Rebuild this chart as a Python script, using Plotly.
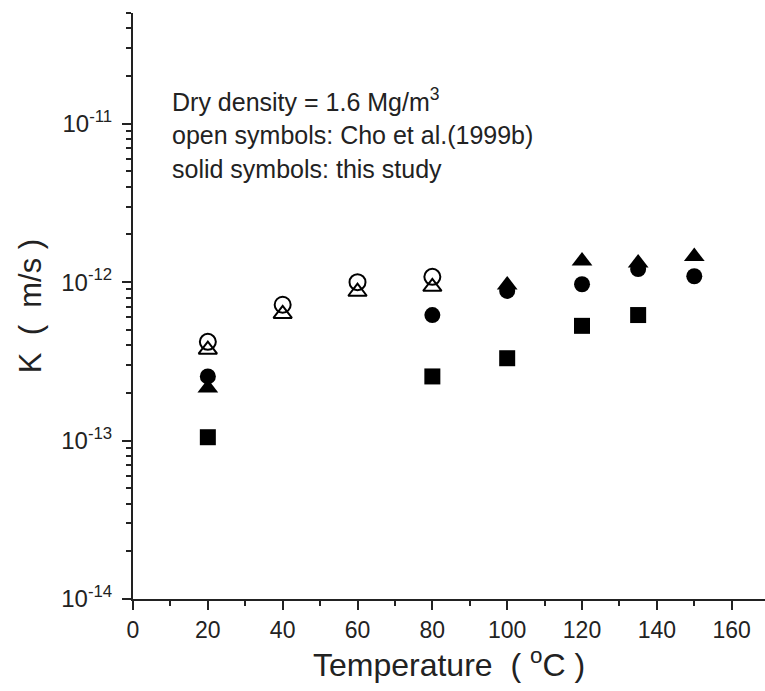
import plotly.graph_objects as go

# Open symbols: Cho et al. (1999b)
cho_T = [20, 40, 60, 80]
cho_circle_K = [4.2e-13, 7.2e-13, 1.0e-12, 1.08e-12]
cho_triangle_K = [3.75e-13, 6.3e-13, 8.7e-13, 9.35e-13]

# Solid symbols: this study
study_circle_T = [20, 80, 100, 120, 135, 150]
study_circle_K = [2.54e-13, 6.2e-13, 8.8e-13, 9.7e-13, 1.21e-12, 1.09e-12]
study_triangle_T = [20, 100, 120, 135, 150]
study_triangle_K = [2.15e-13, 9.6e-13, 1.36e-12, 1.32e-12, 1.45e-12]
study_square_T = [20, 80, 100, 120, 135]
study_square_K = [1.05e-13, 2.54e-13, 3.31e-13, 5.3e-13, 6.2e-13]

y_tickvals = [1e-14, 1e-13, 1e-12, 1e-11]
y_ticktext = ["10<sup>-14</sup>", "10<sup>-13</sup>", "10<sup>-12</sup>", "10<sup>-11</sup>"]

note_lines = [
    "Dry density = 1.6 Mg/m<sup>3</sup>",
    "open symbols: Cho et al.(1999b)",
    "solid symbols: this study",
]

FONT = "Liberation Sans, Arial, sans-serif"
NB = "\u00a0"
fig = go.Figure()

fig.add_trace(go.Scatter(x=cho_T, y=cho_circle_K, mode="markers",
                         marker=dict(symbol="circle-open", size=16, color="black", line=dict(width=2))))
fig.add_trace(go.Scatter(x=cho_T, y=cho_triangle_K, mode="markers",
                         marker=dict(symbol="triangle-up-open", size=16, color="black", line=dict(width=2))))
fig.add_trace(go.Scatter(x=study_circle_T, y=study_circle_K, mode="markers",
                         marker=dict(symbol="circle", size=16, color="black")))
fig.add_trace(go.Scatter(x=study_triangle_T, y=study_triangle_K, mode="markers",
                         marker=dict(symbol="triangle-up", size=18, color="black")))
fig.add_trace(go.Scatter(x=study_square_T, y=study_square_K, mode="markers",
                         marker=dict(symbol="square", size=16, color="black")))

note_y = [-10.852, -11.073, -11.285]
for txt, yy in zip(note_lines, note_y):
    fig.add_annotation(x=10, y=yy, xref="x", yref="y", text=txt, showarrow=False,
                       xanchor="left", yanchor="middle",
                       font=dict(family=FONT, size=25, color="#222"))

fig.update_layout(
    width=765, height=691,
    margin=dict(l=133, r=0, t=13, b=92),
    paper_bgcolor="white", plot_bgcolor="white",
    showlegend=False,
    font=dict(family=FONT, color="#222"),
)
fig.update_xaxes(
    range=[0, 168.9], showgrid=False, zeroline=False,
    showline=True, linecolor="#222", linewidth=2,
    ticks="outside", ticklen=9, tickwidth=2, tickcolor="#222",
    dtick=20, tick0=0,
    tickfont=dict(size=23),
    minor=dict(ticks="outside", ticklen=5, tickwidth=2, tickcolor="#222", dtick=10, tick0=0, showgrid=False),
    title=dict(text=f"Temperature{NB}{NB}({NB}<sup>o</sup>C{NB})", font=dict(size=32), standoff=8),
)
fig.update_yaxes(
    type="log", range=[-14, -10.301], showgrid=False, zeroline=False,
    showline=True, linecolor="#222", linewidth=2,
    ticks="outside", ticklen=9, tickwidth=2, tickcolor="#222",
    tickmode="array", tickvals=y_tickvals, ticktext=y_ticktext,
    tickfont=dict(size=24), ticklabelstandoff=5,
    minor=dict(ticks="outside", ticklen=5, tickwidth=2, tickcolor="#222", dtick="D1", showgrid=False),
    title=dict(text=f"K{NB}{NB}({NB}{NB}m/s{NB})", font=dict(size=31), standoff=10),
)

fig.write_html("out.html")
